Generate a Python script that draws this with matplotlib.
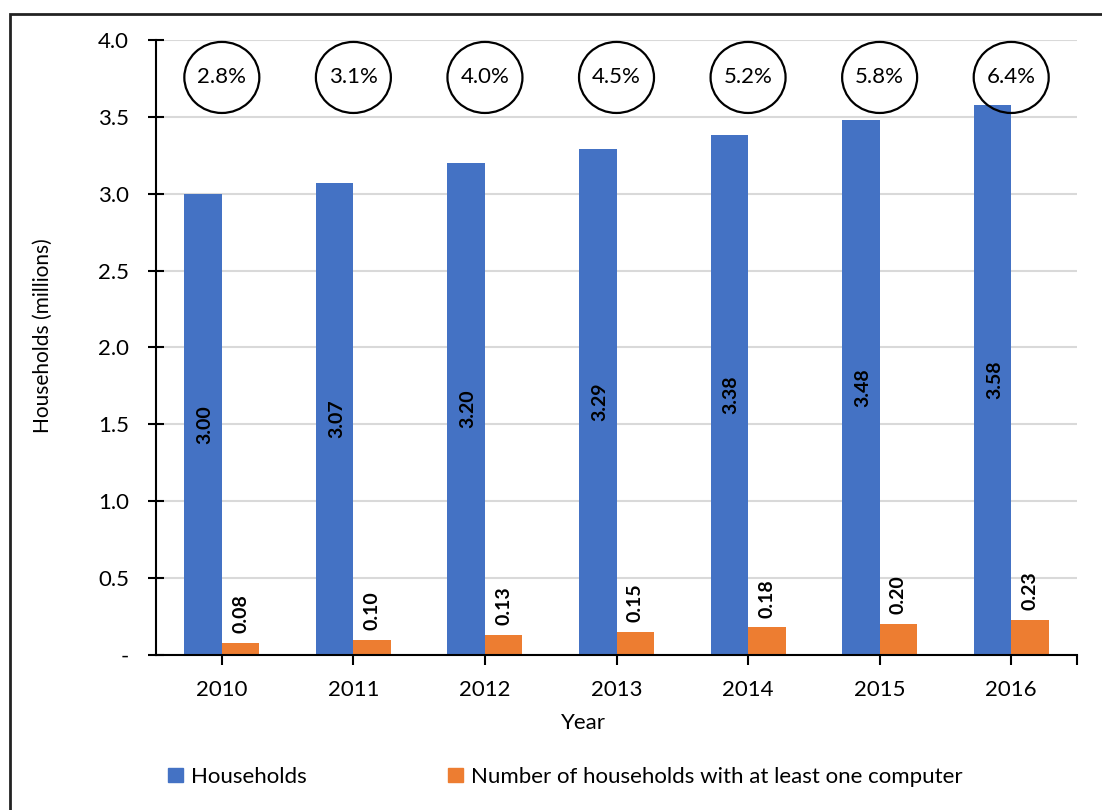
import numpy as np
import matplotlib
matplotlib.use("Agg")
import matplotlib.pyplot as plt
from matplotlib.patches import Ellipse, Rectangle, Patch

plt.rcParams['font.family'] = ['Lato', 'DejaVu Sans']

# data (millions of households)
years = ['2010', '2011', '2012', '2013', '2014', '2015', '2016']
households = [3.00, 3.07, 3.20, 3.29, 3.38, 3.48, 3.58]
with_computer = [0.08, 0.10, 0.13, 0.15, 0.18, 0.20, 0.23]
share_pct = [2.8, 3.1, 4.0, 4.5, 5.2, 5.8, 6.4]
yticks = [0, 0.5, 1.0, 1.5, 2.0, 2.5, 3.0, 3.5, 4.0]
ytick_labels = ['-', '0.5', '1.0', '1.5', '2.0', '2.5', '3.0', '3.5', '4.0']

blue = '#4472C4'
orange = '#ED7D31'

fig = plt.figure(figsize=(11.02, 8.10), dpi=100)
ax = fig.add_axes([0.1416, 0.1914, 0.8357, 0.7593])

x = np.arange(len(years))
w = 0.285
b1 = ax.bar(x - w / 2, households, w, color=blue, zorder=3)
b2 = ax.bar(x + w / 2, with_computer, w, color=orange, zorder=3)

# value labels
for xi, v in zip(x, households):
    ax.text(xi - w / 2 + 0.015, v / 2, f'{v:.2f}', rotation=90, ha='center', va='center',
            fontsize=14, fontweight='bold', zorder=4)
for xi, v in zip(x, with_computer):
    ax.annotate(f'{v:.2f}', (xi + w / 2, v), xytext=(0, 7), textcoords='offset points',
                rotation=90, ha='center', va='bottom', fontsize=14, fontweight='bold', zorder=4)

# share circles above each year
for xi, p in zip(x, share_pct):
    ax.add_patch(Ellipse((xi, 3.756), 0.57, 0.462, fill=False, edgecolor='black',
                         lw=1.6, zorder=5, clip_on=False))
    ax.text(xi, 3.756, f'{p:.1f}%', ha='center', va='center', fontsize=16, zorder=6)

ax.set_xlim(-0.5, 6.5)
ax.set_ylim(0, 4.0)
ax.set_xticks(x)
ax.set_xticklabels(years, fontsize=16)
ax.set_xticks([6.5], minor=True)
ax.set_yticks(yticks)
ax.set_yticklabels(ytick_labels, fontsize=16)

ax.tick_params(axis='x', which='both', direction='out', length=7, width=1.5, pad=11)
ax.tick_params(axis='y', direction='inout', length=11, width=1.5, pad=14)

ax.grid(axis='y', color='#d9d9d9', lw=1.5, zorder=0)
ax.set_axisbelow(True)
for s in ['top', 'right']:
    ax.spines[s].set_visible(False)
for s in ['left', 'bottom']:
    ax.spines[s].set_linewidth(1.5)
    ax.spines[s].set_zorder(4)

ax.set_xlabel('Year', fontsize=16)
ax.xaxis.set_label_coords(0.464, -0.095)
ax.set_ylabel('Households (millions)', fontsize=15)
ax.yaxis.set_label_coords(-0.112, 0.52)

handles = [Patch(color=blue, label='Households'),
           Patch(color=orange, label='Number of households with at least one computer')]
fig.legend(handles=handles, loc='center', bbox_to_anchor=(0.513, 0.041), ncol=2,
           frameon=False, fontsize=16, handlelength=0.65, handleheight=0.65,
           handletextpad=0.35, columnspacing=6.4)

# outer chart border
fig.patches.append(Rectangle((0.0091, -0.05), 1.1, 1.0327, fill=False, edgecolor='#222222',
                             lw=2, transform=fig.transFigure, figure=fig))

fig.savefig('out.png', dpi=100)
